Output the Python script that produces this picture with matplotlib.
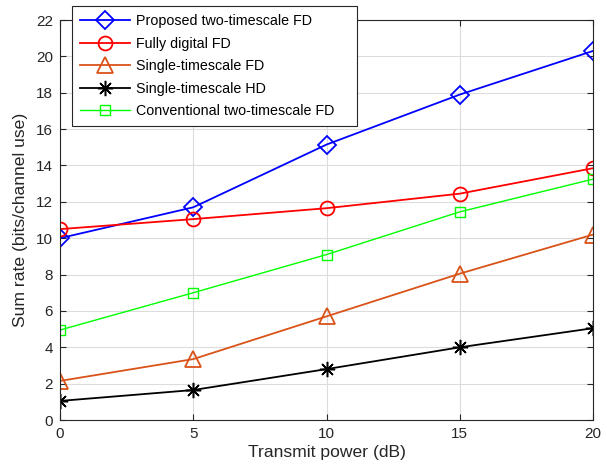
import matplotlib.pyplot as plt

plt.rcParams['font.family'] = ['Liberation Sans', 'DejaVu Sans']

# Transmit power (dB)
power = [0, 5, 10, 15, 20]

# Sum rate for each scheme (bits/channel use)
proposed = [10.0, 11.7, 15.15, 17.9, 20.3]
fully_digital = [10.5, 11.05, 11.65, 12.45, 13.85]
single_fd = [2.15, 3.35, 5.7, 8.05, 10.2]
single_hd = [1.05, 1.65, 2.8, 4.0, 5.05]
conventional = [4.95, 7.0, 9.1, 11.45, 13.25]

labels = ['Proposed two-timescale FD', 'Fully digital FD', 'Single-timescale FD',
          'Single-timescale HD', 'Conventional two-timescale FD']

fig = plt.figure(figsize=(6.07, 4.67), dpi=100)
ax = fig.add_axes([0.0988, 0.1006, 0.8782, 0.8565])

ax.plot(power, proposed, color='#0000ff', marker='D', markersize=9,
        markerfacecolor='none', markeredgewidth=1.3, lw=1.3, label=labels[0])
ax.plot(power, fully_digital, color='#ff0000', marker='o', markersize=10,
        markerfacecolor='none', markeredgewidth=1.3, lw=1.3, label=labels[1])
ax.plot(power, single_fd, color='#D95319', marker='^', markersize=11,
        markerfacecolor='none', markeredgewidth=1.3, lw=1.3, label=labels[2])
ax.plot(power, single_hd, color='black', marker=(8, 2, 0), markersize=11,
        markeredgewidth=1.1, lw=1.3, label=labels[3])
ax.plot(power, conventional, color='#00ff00', marker='s', markersize=6.5,
        markerfacecolor='none', markeredgewidth=1.0, lw=1.0, label=labels[4])

ax.set_xlim(0, 20)
ax.set_ylim(0, 22)
ax.set_xticks([0, 5, 10, 15, 20])
ax.set_yticks(range(0, 23, 2))
ax.grid(True, color='#dcdcdc', lw=0.8)
ax.set_axisbelow(True)
ax.tick_params(direction='in', top=True, right=True, labelsize=11,
               length=4, width=0.8, colors='#262626', pad=5)
for sp in ax.spines.values():
    sp.set_color('#262626')
    sp.set_linewidth(0.8)

ax.set_xlabel('Transmit power (dB)', fontsize=12.6, color='#262626', labelpad=3)
ax.set_ylabel('Sum rate (bits/channel use)', fontsize=12.6, color='#262626', labelpad=6)

# legend box in figure coords, reaching above the axes like the original
leg = ax.legend(loc='upper left', bbox_to_anchor=(0.119, 0.5, 0.469, 0.487),
                bbox_transform=fig.transFigure, mode='expand',
                fontsize=10.3, fancybox=False,
                framealpha=1, edgecolor='#262626', handlelength=3.5,
                handletextpad=0.4, borderpad=0.55, labelspacing=0.6,
                borderaxespad=0)
leg.get_frame().set_linewidth(0.8)

fig.savefig('out.png', dpi=100)
